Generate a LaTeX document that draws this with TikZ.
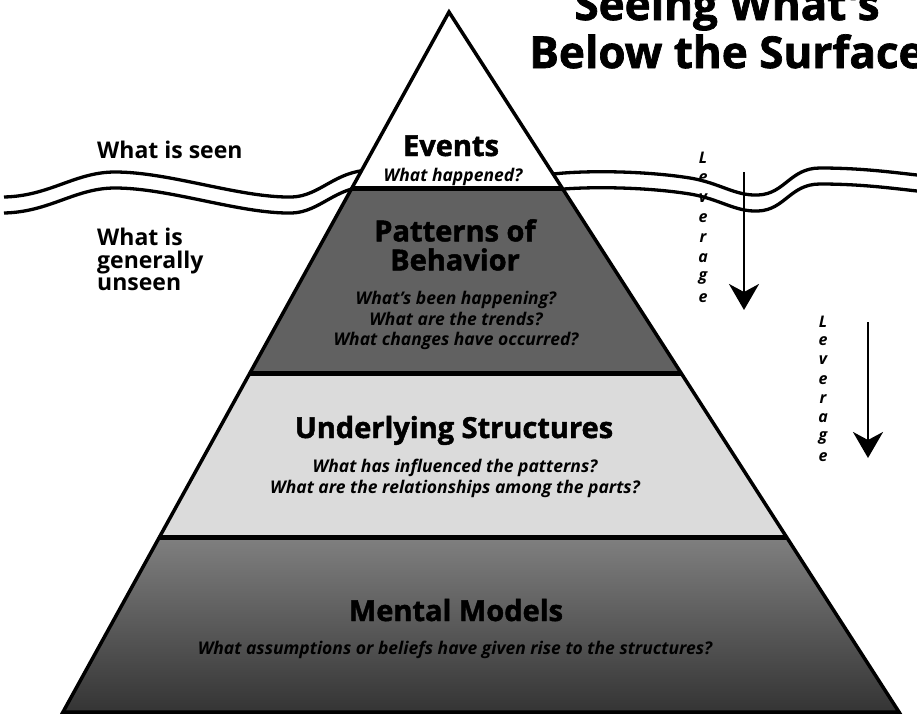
\documentclass[tikz,border=0pt]{standalone}
\usepackage{fontspec}
\setmainfont{Open Sans}
\newfontfamily\heavyfont{Open Sans}[BoldFeatures={FakeBold=1.6}]
\usetikzlibrary{arrows.meta}

\begin{document}
\begin{tikzpicture}[
  x=1pt, y=-1pt,
  every node/.style={inner sep=0pt},
  heading/.style={font=\heavyfont\bfseries\fontsize{44}{52}\selectfont, anchor=base},
  level title/.style={font=\heavyfont\bfseries\fontsize{29}{29}\selectfont, align=center},
  question/.style={font=\bfseries\itshape\fontsize{17.5}{20.5}\selectfont, align=center},
  side label/.style={font=\bfseries\fontsize{23}{22.5}\selectfont, align=left},
  wave/.style={line width=3.3pt},
  band line/.style={line width=5pt},
  lever/.style={line width=2.5pt, -{Stealth[length=26pt, width=30pt, inset=8pt]}},
  lever letter/.style={font=\bfseries\itshape\fontsize{16}{16}\selectfont}
  ]

\useasboundingbox (0,0) rectangle (917,715);
\fill[white] (0,0) rectangle (917,715);

% water line
\foreach \dy in {0,16} {
  \draw[wave] (4,{197+\dy}) .. controls (50,{196+\dy}) and (75,{172+\dy}) .. (115,{172+\dy})
    .. controls (170,{172+\dy}) and (240,{198+\dy}) .. (292,{197+\dy})
    .. controls (320,{196+\dy}) and (335,{171+\dy}) .. (370,{170+\dy});
  \draw[wave] (540,{176+\dy}) .. controls (570,{170+\dy}) and (640,{170+\dy}) .. (690,{178+\dy})
    .. controls (720,{183+\dy}) and (735,{196+\dy}) .. (758,{195+\dy})
    .. controls (785,{194+\dy}) and (790,{168+\dy}) .. (820,{168+\dy})
    .. controls (860,{168+\dy}) and (890,{172+\dy}) .. (917,{175+\dy});
}

\coordinate (apex) at (449,12);
\coordinate (bl) at (63,712);
\coordinate (br) at (899,712);

\begin{scope}
\clip (apex) -- (br) -- (bl) -- cycle;
\fill[white] (0,0) rectangle (917,188);
\fill[black!62] (0,188) rectangle (917,373);
\fill[black!14] (0,373) rectangle (917,537);
\shade[top color=black!50, bottom color=black!80] (0,537) rectangle (917,715);
\draw[band line] (0,188) -- (917,188);
\draw[band line] (0,373) -- (917,373);
\draw[band line] (0,537) -- (917,537);
\end{scope}
\draw[line width=3.5pt, line join=miter] (apex) -- (br) -- (bl) -- cycle;

\node[heading] (seeing) at (727,20) {Seeing What's};
\node[heading] (surface) at (727,68) {Below the Surface};

\node[side label, anchor=base west] (seen) at (97,158) {What is seen};
\node[side label, anchor=north west] (unseen) at (97,228) {What is\\generally\\unseen};

\node[level title, anchor=base] (events) at (451,156) {Events};
\node[question, anchor=base] (eventsq) at (453,181) {What happened?};

\node[level title, anchor=north] (patterns) at (455,219) {Patterns of\\Behavior};
\node[question, anchor=north] (patternsq) at (456,291) {What's been happening?\\What are the trends?\\What changes have occurred?};

\node[level title, anchor=base] (structures) at (454,438) {Underlying Structures};
\node[question, anchor=north] (structuresq) at (455,459) {What has influenced the patterns?\\What are the relationships among the parts?};

\node[level title, anchor=base] (models) at (456,621) {Mental Models};
\node[question, anchor=base] (modelsq) at (455,654) {What assumptions or beliefs have given rise to the structures?};

% leverage arrows
\foreach \ch [count=\i] in {L,e,v,e,r,a,g,e}
  \node[lever letter] (levA\i) at (703,{158+20*(\i-1)}) {\ch};
\coordinate (levAtop) at (744,172);
\coordinate (levAend) at (744,310);
\draw[lever] (levAtop) -- (levAend);

\foreach \ch [count=\i] in {L,e,v,e,r,a,g,e}
  \node[lever letter] (levB\i) at (823,{322+19.3*(\i-1)}) {\ch};
\coordinate (levBtop) at (868,322);
\coordinate (levBend) at (868,458);
\draw[lever] (levBtop) -- (levBend);

\end{tikzpicture}
\end{document}
